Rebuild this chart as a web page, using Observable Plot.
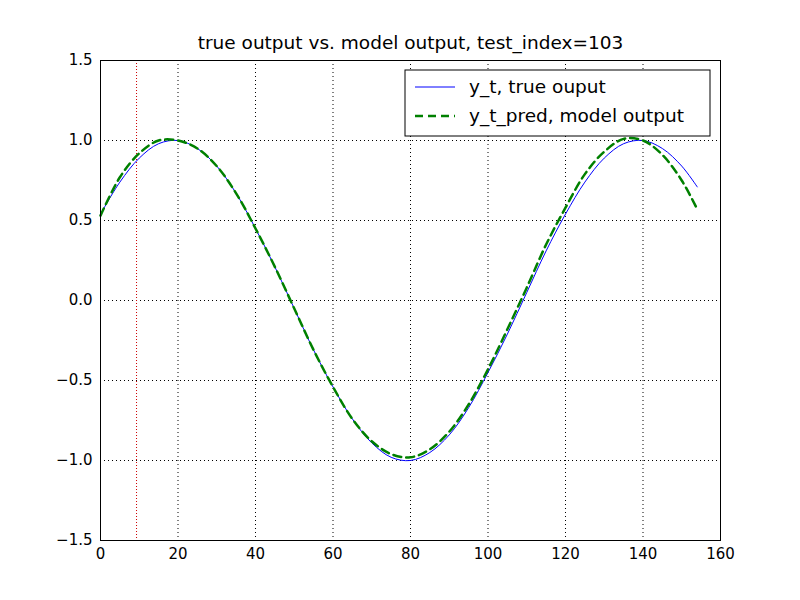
<!DOCTYPE html>
<html>
<head>
<meta charset="utf-8">
<script src="https://cdn.jsdelivr.net/npm/d3@7"></script>
<script src="https://cdn.jsdelivr.net/npm/@observablehq/plot@0.6"></script>
<style>
  body { margin: 0; background: #fff; }
  #chart { width: 800px; height: 600px; }
</style>
</head>
<body>
<div id="chart"></div>
<script>
// values
const xs = [0, 5, 10, 15, 20, 25, 30, 35, 40, 45, 50, 55, 60, 65, 70, 75, 80, 85, 90, 95, 100, 105, 110, 115, 120, 125, 130, 135, 140, 145, 150, 154];
const yTrue = [0.54, 0.74, 0.89, 0.98, 1.00, 0.95, 0.84, 0.67, 0.45, 0.21, -0.05, -0.31, -0.54, -0.74, -0.89, -0.98, -1.00, -0.95, -0.84, -0.67, -0.45, -0.21, 0.05, 0.31, 0.54, 0.74, 0.89, 0.98, 1.00, 0.95, 0.84, 0.71];
const yPred = [0.53, 0.77, 0.92, 1.00, 1.00, 0.95, 0.84, 0.67, 0.45, 0.21, -0.05, -0.31, -0.54, -0.74, -0.88, -0.96, -0.98, -0.93, -0.82, -0.65, -0.43, -0.18, 0.08, 0.35, 0.58, 0.79, 0.93, 1.01, 1.00, 0.91, 0.75, 0.57];
const markerX = 9.3;
const xTicks = [0, 20, 40, 60, 80, 100, 120, 140, 160];
const yTicks = [-1.5, -1.0, -0.5, 0.0, 0.5, 1.0, 1.5];
const title = "true output vs. model output, test_index=103";
const legendLabels = ["y_t, true ouput", "y_t_pred, model output"];

const trueData = xs.map((x, i) => ({ x, y: yTrue[i] }));
const predData = xs.map((x, i) => ({ x, y: yPred[i] }));

const plot = Plot.plot({
  width: 800,
  height: 600,
  marginLeft: 100,
  marginRight: 80,
  marginTop: 60,
  marginBottom: 60,
  style: { fontFamily: "DejaVu Sans", fontSize: "15px", color: "#000", background: "#fff" },
  x: { domain: [0, 160], ticks: xTicks, tickFormat: d3.format("d"), tickSize: 0, tickPadding: 8, label: null },
  y: { domain: [-1.5, 1.5], ticks: yTicks, tickFormat: d3.format(".1f"), tickSize: 0, tickPadding: 8, label: null },
  marks: [
    Plot.gridX(xTicks, { stroke: "#000", strokeOpacity: 1, strokeDasharray: "1,3" }),
    Plot.gridY(yTicks, { stroke: "#000", strokeOpacity: 1, strokeDasharray: "1,3" }),
    Plot.ruleX([markerX], { stroke: "#c00", strokeDasharray: "1,2" }),
    Plot.line(trueData, { x: "x", y: "y", stroke: "#0000ff", strokeWidth: 1, curve: "catmull-rom" }),
    Plot.line(predData, { x: "x", y: "y", stroke: "#008000", strokeWidth: 2.5, strokeDasharray: "8,5", curve: "catmull-rom" }),
    Plot.frame({ stroke: "#000" }),
    Plot.text([title], { frameAnchor: "top", dy: -12, lineAnchor: "bottom", fontSize: 18.5, fill: "#000" })
  ]
});

// legend box, upper right (matplotlib style)
const svg = d3.select(plot);
const lg = svg.append("g").attr("transform", "translate(405,70)").attr("text-anchor", "start");
lg.append("rect").attr("width", 305).attr("height", 66).attr("fill", "#fff").attr("stroke", "#000");
const styles = [
  { stroke: "#0000ff", width: 1, dash: null },
  { stroke: "#008000", width: 2.5, dash: "8,5" }
];
legendLabels.forEach((label, i) => {
  const cy = 17 + i * 29;
  lg.append("line").attr("x1", 10).attr("x2", 50).attr("y1", cy).attr("y2", cy)
    .attr("stroke", styles[i].stroke).attr("stroke-width", styles[i].width)
    .attr("stroke-dasharray", styles[i].dash);
  lg.append("text").attr("x", 64).attr("y", cy).attr("dy", "0.35em")
    .attr("text-anchor", "start")
    .attr("font-family", "DejaVu Sans").attr("font-size", 18.5).attr("fill", "#000").text(label);
});

document.getElementById("chart").appendChild(plot);
</script>
</body>
</html>
